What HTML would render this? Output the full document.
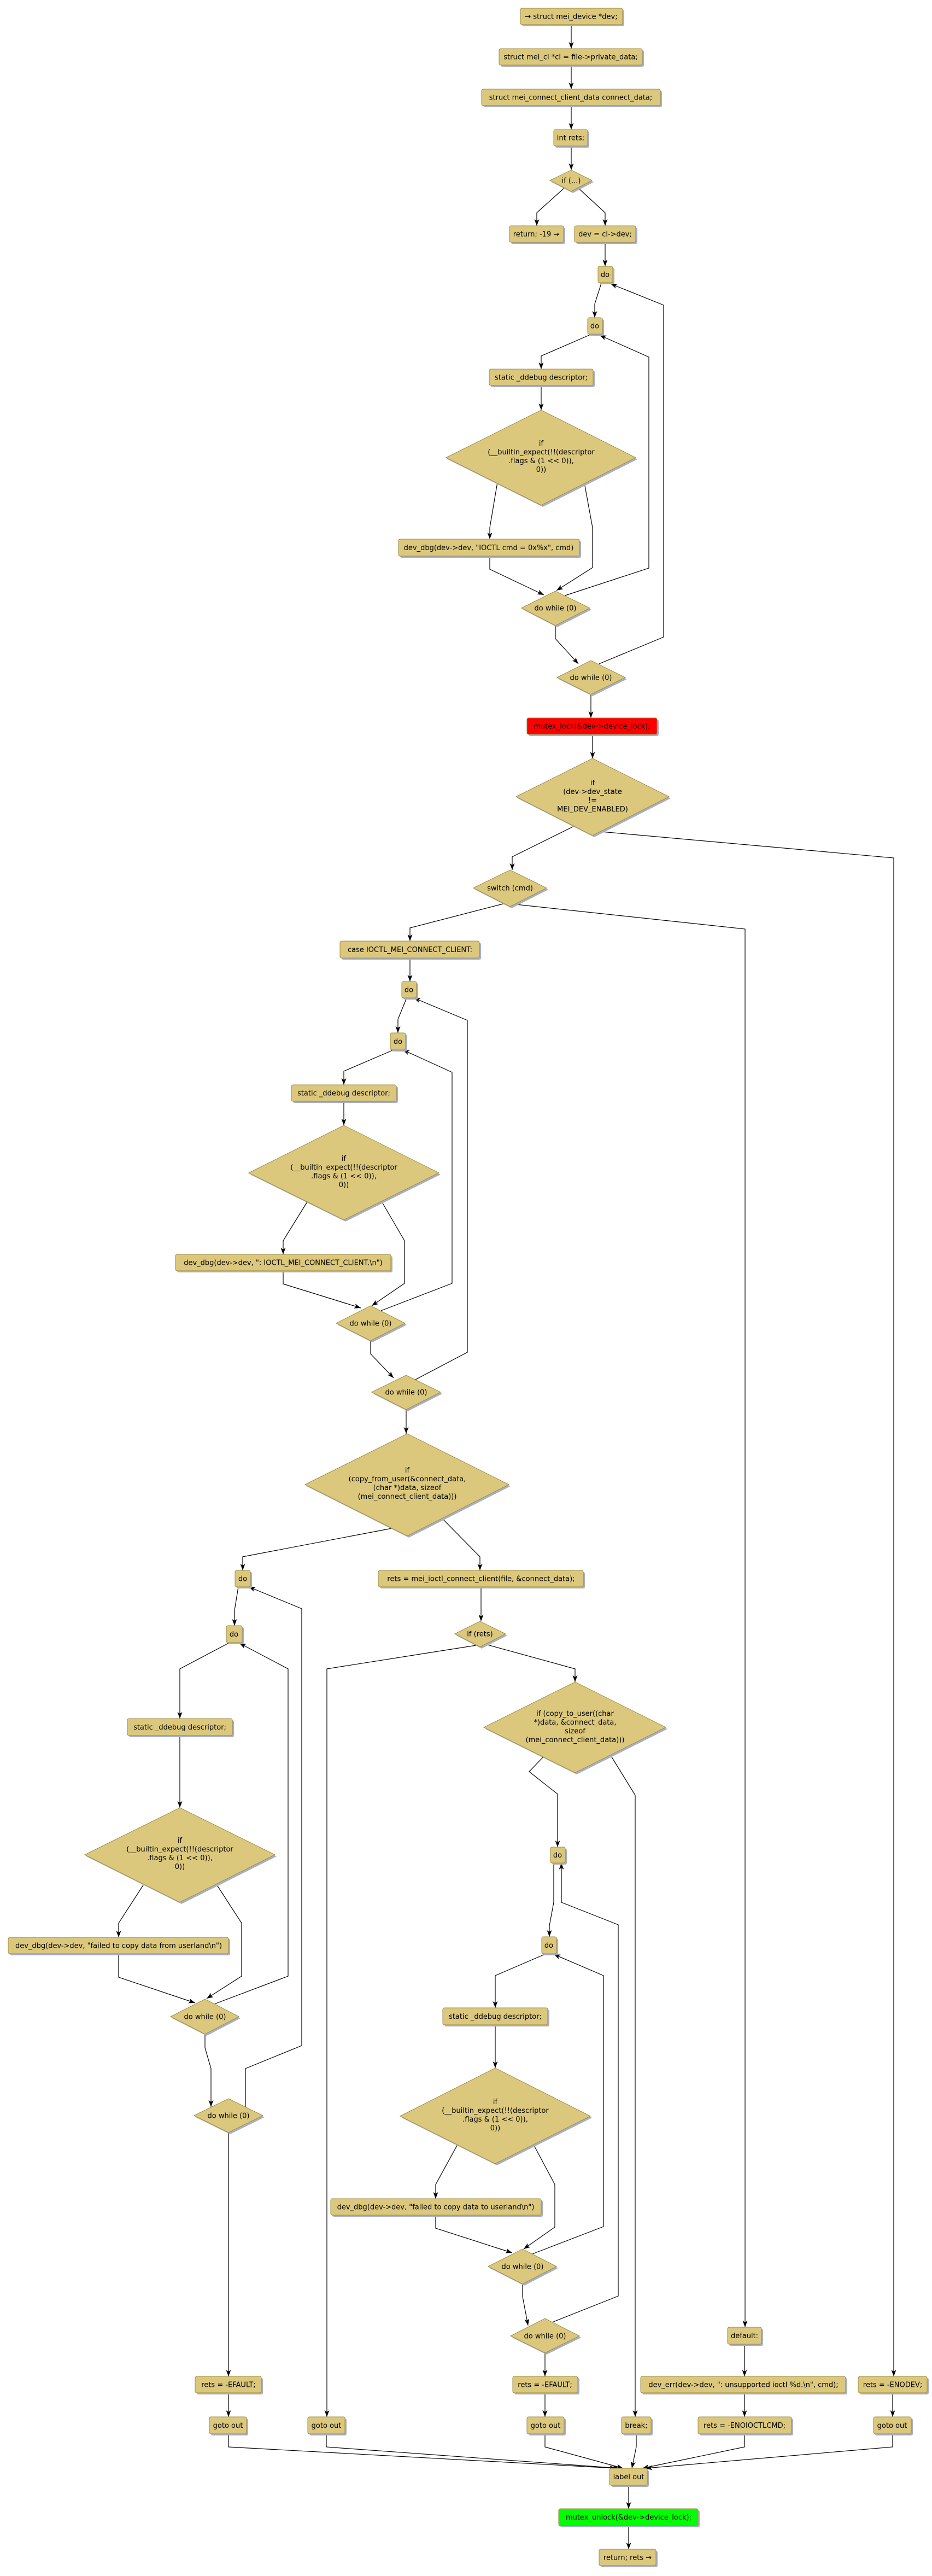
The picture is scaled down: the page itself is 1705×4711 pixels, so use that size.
<!DOCTYPE html>
<html><head><meta charset="utf-8"><style>
html,body{margin:0;padding:0;background:#fff}
svg{display:block}
text{font-family:"DejaVu Sans","Liberation Sans",sans-serif;font-size:13px;fill:#000;text-anchor:middle}
.b{fill:#dbc87d;stroke:#a08b40;stroke-width:1}
.s{fill:#a7afc9;stroke:none}
.e{fill:none;stroke:#000;stroke-width:1.2;marker-end:url(#a)}
</style></head><body>
<svg width="1705" height="4711" viewBox="0 0 1705 4711" xmlns="http://www.w3.org/2000/svg">
<defs><marker id="a" markerUnits="userSpaceOnUse" markerWidth="13" markerHeight="10" refX="12" refY="4.5" orient="auto"><path d="M0,0 L12,4.5 L0,9 L3,4.5 z" fill="#000"/></marker></defs>

<g>
<polyline class="e" points="1045,45 1045,89"/>
<polyline class="e" points="1045,119 1045,163"/>
<polyline class="e" points="1045,193 1045,237"/>
<polyline class="e" points="1045,267 1045,311"/>
<polyline class="e" points="1032,344 982,389 982,413"/>
<polyline class="e" points="1058,344 1107,389 1107,413"/>
<polyline class="e" points="1107,444 1107,487"/>
<polyline class="e" points="1100,518 1088,556 1088,581"/>
<polyline class="e" points="1080,612 990,651 990,675"/>
<polyline class="e" points="990,705 990,750"/>
<polyline class="e" points="910,882 896,965 896,986"/>
<polyline class="e" points="1069,883 1084,965 1084,1038 1018,1080"/>
<polyline class="e" points="896,1017 896,1041 995,1088"/>
<polyline class="e" points="1034,1089 1187,1039 1187,653 1097,613"/>
<polyline class="e" points="1016,1144 1016,1168 1058,1214"/>
<polyline class="e" points="1096,1214 1214,1165 1214,558 1117,519"/>
<polyline class="e" points="1081,1270 1081,1313"/>
<polyline class="e" points="1084,1343 1084,1387"/>
<polyline class="e" points="1052,1510 937,1567 937,1591"/>
<polyline class="e" points="1100,1521 1635,1569 1635,4346"/>
<polyline class="e" points="924,1652 750,1697 750,1721"/>
<polyline class="e" points="944,1654 1363,1699 1363,4256"/>
<polyline class="e" points="750,1752 750,1795"/>
<polyline class="e" points="744,1825 728,1864 728,1889"/>
<polyline class="e" points="720,1920 629,1959 629,1984"/>
<polyline class="e" points="629,2014 629,2058"/>
<polyline class="e" points="562,2198 518,2269 518,2294"/>
<polyline class="e" points="698,2197 740,2269 740,2347 680,2388"/>
<polyline class="e" points="518,2324 518,2348 660,2392"/>
<polyline class="e" points="697,2397 827,2347 827,1961 737,1920"/>
<polyline class="e" points="678,2452 678,2476 720,2520"/>
<polyline class="e" points="760,2523 855,2473 855,1866 757,1825"/>
<polyline class="e" points="743,2578 743,2622"/>
<polyline class="e" points="717,2795 444,2847 444,2872"/>
<polyline class="e" points="808,2776 878,2847 878,2872"/>
<polyline class="e" points="436,2902 429,2945 429,2973"/>
<polyline class="e" points="880,2902 880,2965"/>
<polyline class="e" points="420,3004 329,3052 329,3143"/>
<polyline class="e" points="871,3009 598,3052 598,4420"/>
<polyline class="e" points="888,3007 1052,3052 1052,3076"/>
<polyline class="e" points="329,3174 329,3306"/>
<polyline class="e" points="263,3446 217,3517 217,3543"/>
<polyline class="e" points="396,3446 442,3517 442,3614 378,3655"/>
<polyline class="e" points="217,3573 217,3616 357,3663"/>
<polyline class="e" points="392,3665 527,3614 527,3052 438,3005"/>
<polyline class="e" points="375,3720 375,3745 386,3783 386,3853"/>
<polyline class="e" points="449,3853 449,3783 552,3741 552,2942 455,2902"/>
<polyline class="e" points="418,3900 418,4346"/>
<polyline class="e" points="994,3213 968,3240 1020,3281 1020,3378"/>
<polyline class="e" points="1117,3210 1162,3283 1162,4420"/>
<polyline class="e" points="1013,3407 1013,3479 1005,3522 1005,3542"/>
<polyline class="e" points="1010,4247 1131,4199 1131,3520 1027,3479 1027,3407"/>
<polyline class="e" points="999,3573 906,3613 906,3672"/>
<polyline class="e" points="906,3703 906,3782"/>
<polyline class="e" points="837,3922 797,3995 797,4021"/>
<polyline class="e" points="975,3920 1015,3995 1015,4073 958,4113"/>
<polyline class="e" points="797,4051 797,4075 937,4120"/>
<polyline class="e" points="974,4122 1104,4072 1104,3613 1013,3574"/>
<polyline class="e" points="956,4177 956,4200 966,4253"/>
<polyline class="e" points="997,4303 997,4346"/>
<polyline class="e" points="418,4376 418,4420"/>
<polyline class="e" points="997,4376 997,4420"/>
<polyline class="e" points="1362,4287 1362,4346"/>
<polyline class="e" points="1362,4376 1362,4420"/>
<polyline class="e" points="1633,4376 1633,4420"/>
<polyline class="e" points="418,4451 418,4475 1127,4514"/>
<polyline class="e" points="597,4451 597,4475 1133,4514"/>
<polyline class="e" points="997,4451 997,4475 1140,4514"/>
<polyline class="e" points="1164,4451 1164,4475 1156,4514"/>
<polyline class="e" points="1362,4451 1362,4475 1175,4514"/>
<polyline class="e" points="1633,4451 1633,4475 1181,4514"/>
<polyline class="e" points="1150,4545 1150,4588"/>
<polyline class="e" points="1150,4619 1150,4662"/>
</g>

<g>
<rect class="s" x="955" y="18" width="187" height="30" rx="3"/><rect class="b" x="952" y="15" width="187" height="30" rx="3"/><text x="1045" y="34.5">→ struct mei_device *dev;</text>
<rect class="s" x="916" y="92" width="262" height="30" rx="3"/><rect class="b" x="913" y="89" width="262" height="30" rx="3"/><text x="1044" y="108.5">struct mei_cl *cl = file-&gt;private_data;</text>
<rect class="s" x="884" y="166" width="327" height="30" rx="3"/><rect class="b" x="881" y="163" width="327" height="30" rx="3"/><text x="1044" y="182.5">struct mei_connect_client_data connect_data;</text>
<rect class="s" x="1016" y="240" width="62" height="30" rx="3"/><rect class="b" x="1013" y="237" width="62" height="30" rx="3"/><text x="1044" y="256.5">int rets;</text>
<rect class="s" x="935" y="416" width="99" height="30" rx="3"/><rect class="b" x="932" y="413" width="99" height="30" rx="3"/><text x="981" y="432.5">return; -19 →</text>
<rect class="s" x="1054" y="416" width="112" height="30" rx="3"/><rect class="b" x="1051" y="413" width="112" height="30" rx="3"/><text x="1107" y="432.5">dev = cl-&gt;dev;</text>
<rect class="s" x="1097" y="490" width="27" height="30" rx="3"/><rect class="b" x="1094" y="487" width="27" height="30" rx="3"/><text x="1107" y="506.5">do</text>
<rect class="s" x="1078" y="584" width="27" height="30" rx="3"/><rect class="b" x="1075" y="581" width="27" height="30" rx="3"/><text x="1088" y="600.5">do</text>
<rect class="s" x="898" y="678" width="190" height="30" rx="3"/><rect class="b" x="895" y="675" width="190" height="30" rx="3"/><text x="990" y="694.5">static _ddebug descriptor;</text>
<rect class="s" x="732" y="989" width="331" height="31" rx="3"/><rect class="b" x="729" y="986" width="331" height="31" rx="3"/><text x="894" y="1006">dev_dbg(dev-&gt;dev, "IOCTL cmd = 0x%x", cmd)</text>
<rect class="s" x="967" y="1316" width="238" height="30" rx="3"/><rect x="964" y="1313" width="238" height="30" rx="3" fill="#ff0000" stroke="#a08b40"/><text x="1083" y="1332.5">mutex_lock(&amp;dev-&gt;device_lock);</text>
<rect class="s" x="625" y="1724" width="255" height="31" rx="3"/><rect class="b" x="622" y="1721" width="255" height="31" rx="3"/><text x="750" y="1741">case IOCTL_MEI_CONNECT_CLIENT:</text>
<rect class="s" x="738" y="1798" width="27" height="30" rx="3"/><rect class="b" x="735" y="1795" width="27" height="30" rx="3"/><text x="748" y="1814.5">do</text>
<rect class="s" x="717" y="1892" width="28" height="31" rx="3"/><rect class="b" x="714" y="1889" width="28" height="31" rx="3"/><text x="728" y="1909">do</text>
<rect class="s" x="536" y="1987" width="192" height="30" rx="3"/><rect class="b" x="533" y="1984" width="192" height="30" rx="3"/><text x="629" y="2003.5">static _ddebug descriptor;</text>
<rect class="s" x="324" y="2297" width="394" height="30" rx="3"/><rect class="b" x="321" y="2294" width="394" height="30" rx="3"/><text x="518" y="2313.5">dev_dbg(dev-&gt;dev, ": IOCTL_MEI_CONNECT_CLIENT.\n")</text>
<rect class="s" x="433" y="2875" width="28" height="30" rx="3"/><rect class="b" x="430" y="2872" width="28" height="30" rx="3"/><text x="444" y="2891.5">do</text>
<rect class="s" x="695" y="2875" width="375" height="30" rx="3"/><rect class="b" x="692" y="2872" width="375" height="30" rx="3"/><text x="880" y="2891.5">rets = mei_ioctl_connect_client(file, &amp;connect_data);</text>
<rect class="s" x="417" y="2976" width="29" height="31" rx="3"/><rect class="b" x="414" y="2973" width="29" height="31" rx="3"/><text x="428" y="2993">do</text>
<rect class="s" x="236" y="3146" width="192" height="31" rx="3"/><rect class="b" x="233" y="3143" width="192" height="31" rx="3"/><text x="329" y="3163">static _ddebug descriptor;</text>
<rect class="s" x="18" y="3546" width="403" height="30" rx="3"/><rect class="b" x="15" y="3543" width="403" height="30" rx="3"/><text x="217" y="3562.5">dev_dbg(dev-&gt;dev, "failed to copy data from userland\n")</text>
<rect class="s" x="1010" y="3381" width="27" height="29" rx="3"/><rect class="b" x="1007" y="3378" width="27" height="29" rx="3"/><text x="1020" y="3397">do</text>
<rect class="s" x="994" y="3545" width="27" height="31" rx="3"/><rect class="b" x="991" y="3542" width="27" height="31" rx="3"/><text x="1004" y="3562">do</text>
<rect class="s" x="813" y="3675" width="192" height="31" rx="3"/><rect class="b" x="810" y="3672" width="192" height="31" rx="3"/><text x="906" y="3692">static _ddebug descriptor;</text>
<rect class="s" x="608" y="4024" width="385" height="30" rx="3"/><rect class="b" x="605" y="4021" width="385" height="30" rx="3"/><text x="797" y="4040.5">dev_dbg(dev-&gt;dev, "failed to copy data to userland\n")</text>
<rect class="s" x="1334" y="4259" width="62" height="31" rx="3"/><rect class="b" x="1331" y="4256" width="62" height="31" rx="3"/><text x="1362" y="4276">default:</text>
<rect class="s" x="360" y="4349" width="121" height="30" rx="3"/><rect class="b" x="357" y="4346" width="121" height="30" rx="3"/><text x="418" y="4365.5">rets = -EFAULT;</text>
<rect class="s" x="941" y="4349" width="119" height="30" rx="3"/><rect class="b" x="938" y="4346" width="119" height="30" rx="3"/><text x="997" y="4365.5">rets = -EFAULT;</text>
<rect class="s" x="1175" y="4349" width="375" height="30" rx="3"/><rect class="b" x="1172" y="4346" width="375" height="30" rx="3"/><text x="1360" y="4365.5">dev_err(dev-&gt;dev, ": unsupported ioctl %d.\n", cmd);</text>
<rect class="s" x="1573" y="4349" width="126" height="30" rx="3"/><rect class="b" x="1570" y="4346" width="126" height="30" rx="3"/><text x="1633" y="4365.5">rets = -ENODEV;</text>
<rect class="s" x="386" y="4423" width="68" height="31" rx="3"/><rect class="b" x="383" y="4420" width="68" height="31" rx="3"/><text x="417" y="4440">goto out</text>
<rect class="s" x="566" y="4423" width="68" height="31" rx="3"/><rect class="b" x="563" y="4420" width="68" height="31" rx="3"/><text x="597" y="4440">goto out</text>
<rect class="s" x="967" y="4423" width="68" height="31" rx="3"/><rect class="b" x="964" y="4420" width="68" height="31" rx="3"/><text x="998" y="4440">goto out</text>
<rect class="s" x="1140" y="4423" width="54" height="31" rx="3"/><rect class="b" x="1137" y="4420" width="54" height="31" rx="3"/><text x="1164" y="4440">break;</text>
<rect class="s" x="1280" y="4423" width="171" height="31" rx="3"/><rect class="b" x="1277" y="4420" width="171" height="31" rx="3"/><text x="1362" y="4440">rets = -ENOIOCTLCMD;</text>
<rect class="s" x="1601" y="4423" width="69" height="31" rx="3"/><rect class="b" x="1598" y="4420" width="69" height="31" rx="3"/><text x="1632" y="4440">goto out</text>
<rect class="s" x="1118" y="4517" width="69" height="31" rx="3"/><rect class="b" x="1115" y="4514" width="69" height="31" rx="3"/><text x="1150" y="4534">label out</text>
<rect class="s" x="1025" y="4591" width="255" height="31" rx="3"/><rect x="1022" y="4588" width="255" height="31" rx="3" fill="#00ff00" stroke="#a08b40"/><text x="1150" y="4608">mutex_unlock(&amp;dev-&gt;device_lock);</text>
<rect class="s" x="1099" y="4665" width="104" height="30" rx="3"/><rect class="b" x="1096" y="4662" width="104" height="30" rx="3"/><text x="1148" y="4681.5">return; rets →</text>
</g>

<g>
<polygon class="s" points="1009,333 1048,314 1086,333 1048,353"/><polygon class="b" points="1006,330 1045,311 1083,330 1045,350"/><text x="1045" y="334.5">if (...)</text>

<polygon class="s" points="819,840 993,753 1166,840 993,927"/><polygon class="b" points="816,837 990,750 1163,837 990,924"/>
<text x="990" y="815">if</text><text x="990" y="831">(__builtin_expect(!!(descriptor</text><text x="990" y="847">.flags &amp; (1 &lt;&lt; 0)),</text><text x="990" y="863">0))</text>

<polygon class="s" points="957,1115 1019,1084 1082,1115 1019,1147"/><polygon class="b" points="954,1112 1016,1081 1079,1112 1016,1144"/><text x="1016" y="1116.5">do while (0)</text>
<polygon class="s" points="1022,1242 1084,1211 1147,1242 1084,1273"/><polygon class="b" points="1019,1239 1081,1208 1144,1239 1081,1270"/><text x="1081" y="1243.5">do while (0)</text>

<polygon class="s" points="947,1460 1087,1390 1227,1460 1087,1531"/><polygon class="b" points="944,1457 1084,1387 1224,1457 1084,1528"/>
<text x="1084" y="1436">if</text><text x="1084" y="1452">(dev-&gt;dev_state</text><text x="1084" y="1468">!=</text><text x="1084" y="1484">MEI_DEV_ENABLED)</text>

<polygon class="s" points="869,1627 936,1594 1003,1627 936,1661"/><polygon class="b" points="866,1624 933,1591 1000,1624 933,1658"/><text x="933" y="1628.5">switch (cmd)</text>

<polygon class="s" points="458,2148 632,2061 806,2148 632,2234"/><polygon class="b" points="455,2145 629,2058 803,2145 629,2231"/>
<text x="629" y="2123">if</text><text x="629" y="2139">(__builtin_expect(!!(descriptor</text><text x="629" y="2155">.flags &amp; (1 &lt;&lt; 0)),</text><text x="629" y="2171">0))</text>

<polygon class="s" points="618,2423 681,2391 744,2423 681,2455"/><polygon class="b" points="615,2420 678,2388 741,2420 678,2452"/><text x="678" y="2424.5">do while (0)</text>
<polygon class="s" points="683,2549 746,2518 809,2549 746,2581"/><polygon class="b" points="680,2546 743,2515 806,2546 743,2578"/><text x="743" y="2550.5">do while (0)</text>

<polygon class="s" points="561,2718 748,2625 934,2718 748,2812"/><polygon class="b" points="558,2715 745,2622 931,2715 745,2809"/>
<text x="745" y="2693">if</text><text x="745" y="2709">(copy_from_user(&amp;connect_data,</text><text x="745" y="2725">(char *)data, sizeof</text><text x="745" y="2741">(mei_connect_client_data)))</text>

<polygon class="s" points="835,2991 881,2968 928,2991 881,3015"/><polygon class="b" points="832,2988 878,2965 925,2988 878,3012"/><text x="878" y="2992.5">if (rets)</text>

<polygon class="s" points="888,3162 1055,3079 1221,3162 1055,3245"/><polygon class="b" points="885,3159 1052,3076 1218,3159 1052,3242"/>
<text x="1052" y="3138">if (copy_to_user((char</text><text x="1052" y="3154">*)data, &amp;connect_data,</text><text x="1052" y="3170">sizeof</text><text x="1052" y="3186">(mei_connect_client_data)))</text>

<polygon class="s" points="158,3395 332,3309 506,3395 332,3482"/><polygon class="b" points="155,3392 329,3306 503,3392 329,3479"/>
<text x="329" y="3370">if</text><text x="329" y="3386">(__builtin_expect(!!(descriptor</text><text x="329" y="3402">.flags &amp; (1 &lt;&lt; 0)),</text><text x="329" y="3418">0))</text>

<polygon class="s" points="315,3691 378,3659 440,3691 378,3723"/><polygon class="b" points="312,3688 375,3656 437,3688 375,3720"/><text x="375" y="3692.5">do while (0)</text>
<polygon class="s" points="358,3872 421,3841 484,3872 421,3903"/><polygon class="b" points="355,3869 418,3838 481,3869 418,3900"/><text x="418" y="3873.5">do while (0)</text>

<polygon class="s" points="735,3873 909,3785 1083,3873 909,3960"/><polygon class="b" points="732,3870 906,3782 1080,3870 906,3957"/>
<text x="906" y="3848">if</text><text x="906" y="3864">(__builtin_expect(!!(descriptor</text><text x="906" y="3880">.flags &amp; (1 &lt;&lt; 0)),</text><text x="906" y="3896">0))</text>

<polygon class="s" points="896,4148 959,4116 1021,4148 959,4180"/><polygon class="b" points="893,4145 956,4113 1018,4145 956,4177"/><text x="956" y="4149.5">do while (0)</text>
<polygon class="s" points="937,4275 1000,4243 1063,4275 1000,4306"/><polygon class="b" points="934,4272 997,4240 1060,4272 997,4303"/><text x="997" y="4276.5">do while (0)</text>
</g>
</svg>
</body></html>
